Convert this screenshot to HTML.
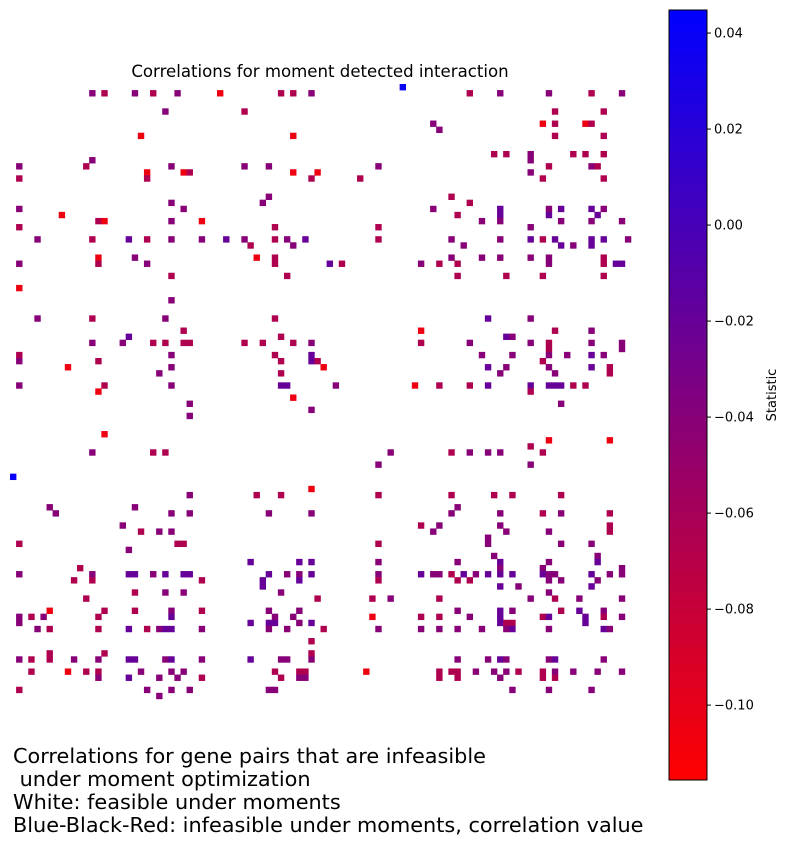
<!DOCTYPE html>
<html><head><meta charset="utf-8"><style>
body{margin:0;background:#fff;font-family:"Liberation Sans","DejaVu Sans",sans-serif;}
svg text{font-family:"DejaVu Sans","Liberation Sans",sans-serif;}
</style></head><body>
<svg id="chart" width="788" height="846" viewBox="0 0 788 846" xmlns="http://www.w3.org/2000/svg">
<defs><linearGradient id="cbg" x1="0" y1="1" x2="0" y2="0"><stop offset="0" stop-color="rgb(255,0,0)"/><stop offset="1" stop-color="rgb(0,0,255)"/></linearGradient></defs>
<text x="320" y="77" font-size="16.6" text-anchor="middle">Correlations for moment detected interaction</text>
<g id="cells"></g>
<rect x="669" y="10" width="38" height="770" fill="url(#cbg)" stroke="#000" stroke-width="1"/>
<g id="cbticks"></g>
<text transform="translate(776,395) rotate(-90)" font-size="13" text-anchor="middle">Statistic</text>
<g font-size="20.8">
<text x="13" y="763">Correlations for gene pairs that are infeasible</text>
<text x="13" y="786" xml:space="preserve"> under moment optimization</text>
<text x="13" y="809">White: feasible under moments</text>
<text x="13" y="832">Blue-Black-Red: infeasible under moments, correlation value</text>
</g>
</svg>
<script>
const tickValues = [0.04, 0.02, 0.00, -0.02, -0.04, -0.06, -0.08, -0.10];
const tickLabels = ["0.04", "0.02", "0.00", "\u22120.02", "\u22120.04", "\u22120.06", "\u22120.08", "\u22120.10"];
const colorMin = -0.1156, colorMax = 0.0448;
const gridSize = 102;
// [row, col, value]
const cells = [
[0,64,0.04],
[1,13,-0.04],[1,15,-0.065],[1,20,-0.04],[1,23,-0.065],[1,27,-0.04],[1,34,-0.105],[1,44,-0.065],[1,46,-0.065],[1,49,-0.04],[1,75,-0.065],[1,80,-0.04],[1,88,-0.04],[1,95,-0.065],[1,100,-0.04],
[4,25,-0.04],[4,38,-0.065],[4,89,-0.065],[4,97,-0.065],
[6,69,-0.04],[6,87,-0.105],[6,89,-0.065],[6,94,-0.105],[6,95,-0.065],
[7,70,-0.04],
[8,21,-0.105],[8,46,-0.105],[8,89,-0.065],[8,97,-0.065],
[11,79,-0.065],[11,81,-0.065],[11,85,-0.04],[11,92,-0.065],[11,94,-0.065],[11,97,-0.065],
[12,13,-0.04],[12,85,-0.04],
[13,1,-0.04],[13,12,-0.065],[13,26,-0.04],[13,38,-0.04],[13,42,-0.04],[13,60,-0.04],[13,88,-0.065],[13,95,-0.04],[13,96,-0.065],
[14,22,-0.105],[14,28,-0.105],[14,29,-0.065],[14,46,-0.105],[14,50,-0.105],[14,85,-0.04],
[15,1,-0.065],[15,22,-0.065],[15,49,-0.065],[15,57,-0.065],[15,87,-0.065],[15,97,-0.065],
[18,42,-0.04],[18,72,-0.065],
[19,26,-0.04],[19,41,-0.04],[19,75,-0.065],
[20,1,-0.04],[20,28,-0.04],[20,69,-0.04],[20,80,-0.02],[20,88,-0.04],[20,90,-0.02],[20,95,-0.02],[20,97,-0.04],
[21,8,-0.105],[21,73,-0.065],[21,80,-0.02],[21,88,-0.02],[21,96,-0.02],
[22,14,-0.065],[22,15,-0.105],[22,26,-0.04],[22,31,-0.105],[22,77,-0.04],[22,80,-0.04],[22,90,-0.04],[22,95,-0.04],[22,100,-0.04],
[23,1,-0.065],[23,43,-0.065],[23,60,-0.065],[23,85,-0.04],
[25,4,-0.04],[25,13,-0.065],[25,19,-0.02],[25,22,-0.065],[25,26,-0.04],[25,31,-0.04],[25,35,-0.02],[25,38,-0.04],[25,43,-0.065],[25,45,-0.04],[25,48,-0.02],[25,60,-0.065],[25,72,-0.04],[25,80,-0.04],[25,85,-0.02],[25,87,-0.065],[25,89,-0.02],[25,95,-0.02],[25,97,-0.02],[25,101,-0.04],
[26,39,-0.065],[26,46,-0.04],[26,74,-0.04],[26,90,-0.02],[26,92,-0.04],[26,95,-0.02],
[28,14,-0.105],[28,20,-0.04],[28,40,-0.105],[28,43,-0.065],[28,72,-0.04],[28,77,-0.04],[28,80,-0.04],[28,85,-0.04],[28,88,-0.04],[28,97,-0.065],
[29,1,-0.04],[29,14,-0.065],[29,22,-0.04],[29,43,-0.065],[29,52,-0.02],[29,54,-0.065],[29,67,-0.04],[29,70,-0.065],[29,73,-0.065],[29,88,-0.04],[29,97,-0.065],[29,99,-0.02],[29,100,-0.02],
[31,26,-0.065],[31,45,-0.065],[31,73,-0.065],[31,81,-0.065],[31,87,-0.065],[31,97,-0.065],
[33,1,-0.105],
[35,26,-0.04],
[38,4,-0.04],[38,13,-0.065],[38,25,-0.04],[38,43,-0.065],[38,78,-0.02],[38,85,-0.04],
[40,28,-0.065],[40,67,-0.105],[40,89,-0.065],[40,95,-0.04],
[41,19,-0.02],[41,44,-0.065],[41,81,-0.02],[41,82,-0.04],
[42,13,-0.04],[42,18,-0.04],[42,23,-0.065],[42,25,-0.065],[42,28,-0.065],[42,29,-0.065],[42,38,-0.065],[42,41,-0.065],[42,46,-0.065],[42,49,-0.04],[42,67,-0.065],[42,75,-0.04],[42,85,-0.04],[42,88,-0.065],[42,95,-0.04],[42,100,-0.04],
[43,88,-0.065],[43,100,-0.04],
[44,1,-0.065],[44,26,-0.04],[44,43,-0.065],[44,49,-0.02],[44,77,-0.04],[44,82,-0.04],[44,88,-0.04],[44,91,-0.04],[44,95,-0.02],[44,97,-0.04],
[45,1,-0.04],[45,14,-0.065],[45,44,-0.065],[45,49,-0.02],[45,50,-0.065],[45,87,-0.065],
[46,9,-0.105],[46,26,-0.04],[46,51,-0.105],[46,78,-0.02],[46,81,-0.04],[46,88,-0.04],[46,95,-0.02],[46,98,-0.065],
[47,24,-0.04],[47,44,-0.065],[47,80,-0.04],[47,89,-0.04],[47,98,-0.065],
[49,1,-0.04],[49,15,-0.065],[49,26,-0.04],[49,44,-0.02],[49,45,-0.02],[49,53,-0.04],[49,66,-0.105],[49,70,-0.065],[49,75,-0.065],[49,78,-0.02],[49,85,-0.02],[49,88,-0.02],[49,89,-0.02],[49,90,-0.02],[49,92,-0.065],[49,94,-0.065],
[50,14,-0.105],[50,85,-0.065],
[51,46,-0.105],
[52,29,-0.04],[52,90,-0.04],
[53,49,-0.04],
[54,29,-0.04],
[57,15,-0.105],
[58,88,-0.105],[58,98,-0.105],
[59,85,-0.065],
[60,13,-0.04],[60,23,-0.065],[60,25,-0.065],[60,62,-0.04],[60,72,-0.065],[60,75,-0.04],[60,78,-0.04],[60,80,-0.04],[60,87,-0.065],
[62,60,-0.04],[62,85,-0.04],
[64,0,0.04],
[66,49,-0.105],
[67,29,-0.04],[67,40,-0.065],[67,44,-0.065],[67,60,-0.065],[67,72,-0.065],[67,79,-0.065],[67,82,-0.065],[67,90,-0.065],
[69,6,-0.04],[69,20,-0.04],[69,73,-0.04],
[70,7,-0.04],[70,26,-0.04],[70,29,-0.04],[70,42,-0.04],[70,49,-0.04],[70,72,-0.04],[70,80,-0.04],[70,87,-0.065],[70,90,-0.04],[70,98,-0.065],
[72,18,-0.04],[72,67,-0.065],[72,70,-0.04],[72,80,-0.04],[72,98,-0.065],
[73,21,-0.065],[73,24,-0.04],[73,26,-0.04],[73,69,-0.04],[73,81,-0.04],[73,88,-0.04],[73,98,-0.065],
[74,78,-0.04],
[75,1,-0.065],[75,27,-0.065],[75,28,-0.065],[75,60,-0.065],[75,78,-0.04],[75,90,-0.04],[75,95,-0.04],
[76,19,-0.04],
[77,79,-0.04],[77,96,-0.04],
[78,39,-0.02],[78,47,-0.02],[78,49,-0.02],[78,60,-0.04],[78,73,-0.04],[78,80,-0.02],[78,88,-0.04],[78,96,-0.02],
[79,11,-0.065],[79,80,-0.04],[79,87,-0.04],[79,100,-0.04],
[80,1,-0.04],[80,13,-0.04],[80,19,-0.02],[80,20,-0.02],[80,23,-0.04],[80,25,-0.02],[80,28,-0.02],[80,29,-0.02],[80,42,-0.02],[80,45,-0.04],[80,47,-0.04],[80,49,-0.02],[80,60,-0.04],[80,67,-0.02],[80,69,-0.04],[80,70,-0.04],[80,72,-0.065],[80,74,-0.02],[80,76,-0.04],[80,78,-0.02],[80,80,-0.02],[80,82,-0.02],[80,87,-0.02],[80,88,-0.04],[80,89,-0.04],[80,95,-0.02],[80,98,-0.04],[80,100,-0.04],
[81,10,-0.065],[81,13,-0.065],[81,31,-0.065],[81,41,-0.02],[81,47,-0.02],[81,60,-0.065],[81,73,-0.065],[81,75,-0.065],[81,88,-0.04],[81,90,-0.04],[81,96,-0.04],
[82,41,-0.02],[82,80,-0.02],[82,83,-0.04],[82,95,-0.02],
[83,20,-0.065],[83,25,-0.04],[83,28,-0.04],[83,44,-0.04],[83,88,-0.04],
[84,12,-0.065],[84,50,-0.065],[84,59,-0.065],[84,62,-0.04],[84,70,-0.065],[84,85,-0.04],[84,89,-0.065],[84,93,-0.04],[84,100,-0.04],
[86,6,-0.105],[86,15,-0.065],[86,20,-0.065],[86,26,-0.04],[86,31,-0.065],[86,42,-0.04],[86,47,-0.04],[86,73,-0.04],[86,80,-0.02],[86,82,-0.04],[86,90,-0.065],[86,93,-0.02],[86,97,-0.04],
[87,1,-0.04],[87,3,-0.065],[87,5,-0.04],[87,14,-0.065],[87,26,-0.02],[87,43,-0.04],[87,46,-0.04],[87,59,-0.105],[87,67,-0.065],[87,70,-0.065],[87,75,-0.04],[87,80,-0.02],[87,87,-0.065],[87,88,-0.02],[87,94,-0.02],[87,97,-0.065],[87,100,-0.04],
[88,1,-0.04],[88,39,-0.02],[88,42,-0.02],[88,43,-0.02],[88,47,-0.04],[88,49,-0.02],[88,80,-0.02],[88,81,-0.065],[88,82,-0.065],[88,94,-0.02],
[89,4,-0.04],[89,6,-0.065],[89,14,-0.065],[89,19,-0.02],[89,22,-0.065],[89,24,-0.04],[89,25,-0.02],[89,26,-0.02],[89,31,-0.04],[89,42,-0.04],[89,45,-0.04],[89,51,-0.065],[89,60,-0.04],[89,67,-0.04],[89,70,-0.04],[89,73,-0.04],[89,77,-0.04],[89,81,-0.04],[89,82,-0.02],[89,88,-0.04],[89,97,-0.02],[89,98,-0.04],
[91,49,-0.065],
[93,6,-0.065],[93,15,-0.065],[93,49,-0.065],
[94,1,-0.04],[94,3,-0.065],[94,6,-0.065],[94,10,-0.04],[94,14,-0.04],[94,19,-0.02],[94,20,-0.02],[94,25,-0.04],[94,26,-0.02],[94,31,-0.04],[94,39,-0.02],[94,44,-0.04],[94,45,-0.04],[94,49,-0.04],[94,73,-0.04],[94,78,-0.04],[94,80,-0.02],[94,81,-0.04],[94,88,-0.04],[94,89,-0.02],[94,97,-0.04],
[96,3,-0.065],[96,9,-0.105],[96,12,-0.065],[96,14,-0.065],[96,21,-0.04],[96,26,-0.04],[96,28,-0.04],[96,43,-0.065],[96,47,-0.065],[96,48,-0.065],[96,58,-0.105],[96,70,-0.065],[96,72,-0.065],[96,73,-0.065],[96,76,-0.04],[96,79,-0.04],[96,81,-0.04],[96,83,-0.065],[96,87,-0.065],[96,89,-0.04],[96,92,-0.04],[96,96,-0.04],[96,100,-0.04],
[97,14,-0.04],[97,19,-0.02],[97,24,-0.04],[97,27,-0.04],[97,31,-0.065],[97,44,-0.065],[97,47,-0.04],[97,48,-0.04],[97,70,-0.065],[97,73,-0.065],[97,80,-0.04],[97,87,-0.065],[97,89,-0.065],
[99,1,-0.065],[99,22,-0.04],[99,26,-0.04],[99,29,-0.04],[99,42,-0.04],[99,43,-0.04],[99,82,-0.04],[99,88,-0.04],[99,95,-0.04],
[100,24,-0.04]
];

const NS = "http://www.w3.org/2000/svg";
const plotX = 10, plotY = 84, plotW = 621, plotH = 621;
const cbTop = 10, cbH = 770, cbX = 707;
function xScale(c){ return plotX + c * plotW / gridSize; }
function yScale(r){ return plotY + r * plotH / gridSize; }
function cbScale(v){ return cbTop + (colorMax - v) / (colorMax - colorMin) * cbH; }
function colorOf(v){
  let t = (v - colorMin) / (colorMax - colorMin);
  t = Math.max(0, Math.min(1, t));
  return "rgb(" + Math.round(255 * (1 - t)) + ",0," + Math.round(255 * t) + ")";
}
const g = document.getElementById("cells");
const cw = plotW / gridSize;
cells.forEach(function(d){
  const r = document.createElementNS(NS, "rect");
  r.setAttribute("x", xScale(d[1]).toFixed(2));
  r.setAttribute("y", yScale(d[0]).toFixed(2));
  r.setAttribute("width", (cw + 0.3).toFixed(2));
  r.setAttribute("height", (cw + 0.3).toFixed(2));
  r.setAttribute("fill", colorOf(d[2]));
  
  
  g.appendChild(r);
});
const tg = document.getElementById("cbticks");
tickValues.forEach(function(v, i){
  const y = cbScale(v);
  const l = document.createElementNS(NS, "line");
  l.setAttribute("x1", cbX); l.setAttribute("x2", cbX + 4);
  l.setAttribute("y1", y); l.setAttribute("y2", y);
  l.setAttribute("stroke", "#000");
  
  
  tg.appendChild(l);
  const t = document.createElementNS(NS, "text");
  t.setAttribute("x", cbX + 7);
  t.setAttribute("y", y + 4.5);
  t.setAttribute("font-size", "13");
  t.textContent = tickLabels[i];
  
  
  tg.appendChild(t);
});
</script>
</body></html>
